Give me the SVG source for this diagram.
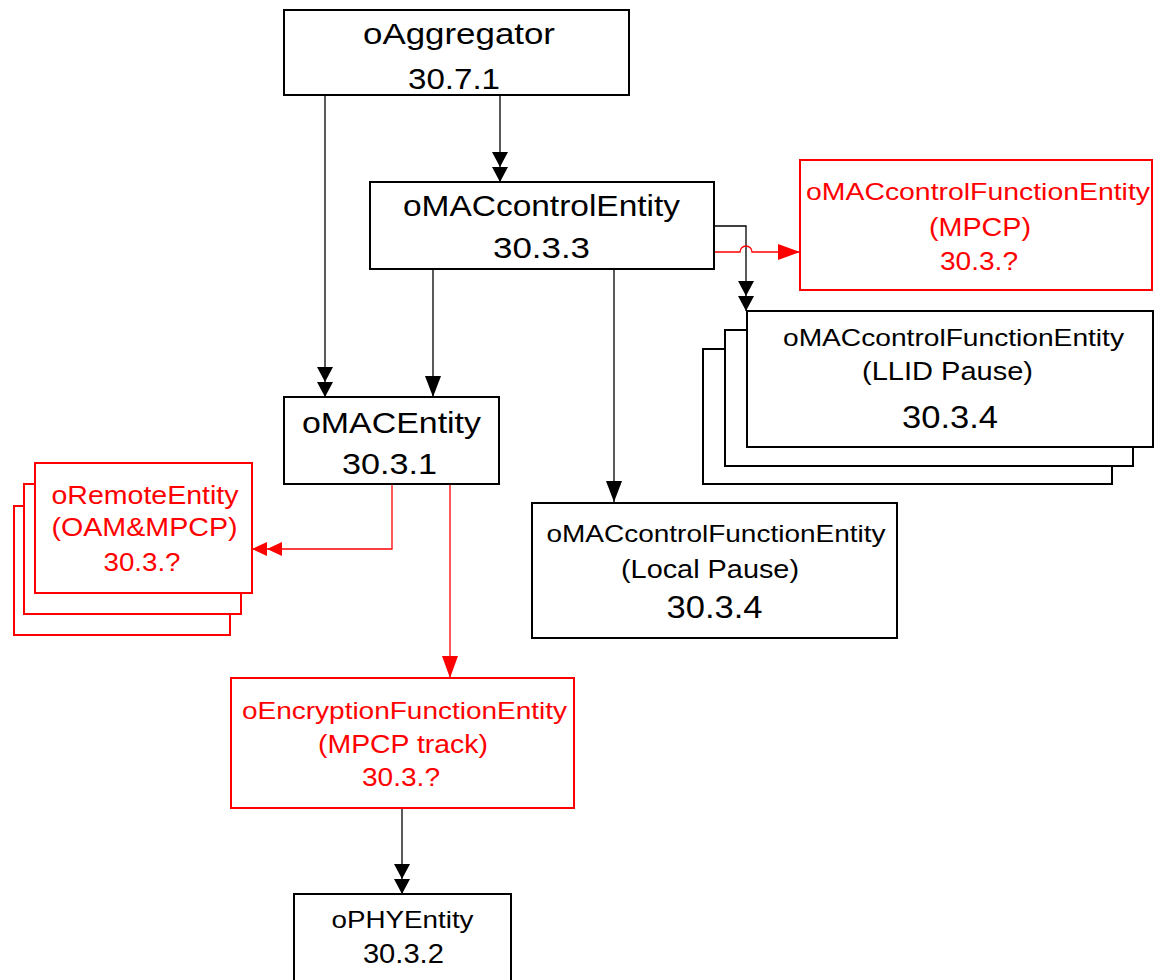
<svg xmlns="http://www.w3.org/2000/svg" width="1155" height="980" viewBox="0 0 1155 980">
<style>
text{font-family:"Liberation Sans",Arial,sans-serif;text-anchor:middle}
.b{fill:#fff;stroke:#000;stroke-width:2}
.r{fill:#fff;stroke:#f00;stroke-width:2}
.rt{fill:#f00}
.bt{fill:#000}
.cb{fill:none;stroke:#000;stroke-width:1.3}
.cr{fill:none;stroke:#f00;stroke-width:1.3}
</style>
<defs>
<marker id="dblB" markerUnits="userSpaceOnUse" viewBox="0 0 30 16" refX="30" refY="8" markerWidth="30" markerHeight="16" orient="auto"><path d="M0,0L15,8L0,16ZM15,0L30,8L15,16Z" fill="#000"/></marker>
<marker id="sglB" markerUnits="userSpaceOnUse" viewBox="0 0 21 16" refX="21" refY="8" markerWidth="21" markerHeight="16" orient="auto"><path d="M0,0L21,8L0,16Z" fill="#000"/></marker>
<marker id="sglR" markerUnits="userSpaceOnUse" viewBox="0 0 22 16" refX="22" refY="8" markerWidth="22" markerHeight="16" orient="auto"><path d="M0,0L22,8L0,16Z" fill="#f00"/></marker>
<marker id="dblR" markerUnits="userSpaceOnUse" viewBox="0 0 30 16" refX="30" refY="8" markerWidth="30" markerHeight="16" orient="auto"><path d="M0,1L15,8L0,15ZM15,1L30,8L15,15Z" fill="#f00"/></marker>
</defs>

<g id="connectors">
<path class="cb" d="M325,95V397" marker-end="url(#dblB)"/>
<path class="cb" d="M500,95V182" marker-end="url(#dblB)"/>
<path class="cb" d="M433,269V397" marker-end="url(#sglB)"/>
<path class="cb" d="M614,269V502" marker-end="url(#sglB)"/>
<path class="cb" d="M714,226H746V311" marker-end="url(#dblB)"/>
<path class="cr" d="M714,252H740A6,6 0 0 1 752,252H800" marker-end="url(#sglR)"/>
<path class="cr" d="M392,485V549H252" marker-end="url(#dblR)"/>
<path class="cr" d="M450,485V678" marker-end="url(#sglR)"/>
<path class="cb" d="M402,808V894" marker-end="url(#dblB)"/>
</g>

<g id="oAggregator">
<rect class="b" x="284" y="10" width="345" height="85"/>
<text class="bt" x="459" y="44" font-size="30" textLength="192" lengthAdjust="spacingAndGlyphs">oAggregator</text>
<text class="bt" x="454" y="89" font-size="29" textLength="92" lengthAdjust="spacingAndGlyphs">30.7.1</text>
</g>

<g id="oMACcontrolEntity">
<rect class="b" x="370" y="182" width="344" height="87"/>
<text class="bt" x="541.5" y="216" font-size="30" textLength="277" lengthAdjust="spacingAndGlyphs">oMACcontrolEntity</text>
<text class="bt" x="541.5" y="258" font-size="29" textLength="97" lengthAdjust="spacingAndGlyphs">30.3.3</text>
</g>

<g id="oMACcontrolFunctionEntityMPCP">
<rect class="r" x="800" y="160" width="352" height="130"/>
<text class="rt" x="978" y="200" font-size="24" textLength="344" lengthAdjust="spacingAndGlyphs">oMACcontrolFunctionEntity</text>
<text class="rt" x="980" y="236" font-size="25" textLength="102" lengthAdjust="spacingAndGlyphs">(MPCP)</text>
<text class="rt" x="979" y="270" font-size="25" textLength="78" lengthAdjust="spacingAndGlyphs">30.3.?</text>
</g>

<g id="oMACcontrolFunctionEntityLLID">
<rect class="b" x="703" y="349" width="409" height="135"/>
<rect class="b" x="725" y="330" width="408" height="136"/>
<rect class="b" x="747" y="311" width="406" height="136"/>
<text class="bt" x="953.5" y="346" font-size="24" textLength="341" lengthAdjust="spacingAndGlyphs">oMACcontrolFunctionEntity</text>
<text class="bt" x="947.5" y="380" font-size="25" textLength="171" lengthAdjust="spacingAndGlyphs">(LLID Pause)</text>
<text class="bt" x="950" y="428" font-size="32" textLength="96" lengthAdjust="spacingAndGlyphs">30.3.4</text>
</g>

<g id="oMACEntity">
<rect class="b" x="284" y="397" width="215" height="87"/>
<text class="bt" x="391.5" y="433" font-size="30" textLength="179" lengthAdjust="spacingAndGlyphs">oMACEntity</text>
<text class="bt" x="389.5" y="474" font-size="29" textLength="95" lengthAdjust="spacingAndGlyphs">30.3.1</text>
</g>

<g id="oRemoteEntity">
<rect class="r" x="14" y="506" width="216" height="129"/>
<rect class="r" x="24" y="484" width="217" height="130"/>
<rect class="r" x="35" y="463" width="217" height="130"/>
<text class="rt" x="145" y="504" font-size="25" textLength="187" lengthAdjust="spacingAndGlyphs">oRemoteEntity</text>
<text class="rt" x="144.5" y="536" font-size="25" textLength="186" lengthAdjust="spacingAndGlyphs">(OAM&amp;MPCP)</text>
<text class="rt" x="142" y="571" font-size="25" textLength="77" lengthAdjust="spacingAndGlyphs">30.3.?</text>
</g>

<g id="oMACcontrolFunctionEntityLocal">
<rect class="b" x="532" y="503" width="365" height="135"/>
<text class="bt" x="716" y="542" font-size="24" textLength="339" lengthAdjust="spacingAndGlyphs">oMACcontrolFunctionEntity</text>
<text class="bt" x="710" y="578" font-size="25" textLength="178" lengthAdjust="spacingAndGlyphs">(Local Pause)</text>
<text class="bt" x="714.5" y="618" font-size="32" textLength="96" lengthAdjust="spacingAndGlyphs">30.3.4</text>
</g>

<g id="oEncryptionFunctionEntity">
<rect class="r" x="231" y="678" width="343" height="130"/>
<text class="rt" x="404.5" y="719" font-size="24" textLength="325" lengthAdjust="spacingAndGlyphs">oEncryptionFunctionEntity</text>
<text class="rt" x="403" y="753" font-size="25" textLength="170" lengthAdjust="spacingAndGlyphs">(MPCP track)</text>
<text class="rt" x="401" y="786" font-size="25" textLength="78" lengthAdjust="spacingAndGlyphs">30.3.?</text>
</g>

<g id="oPHYEntity">
<rect class="b" x="294" y="894" width="217" height="95"/>
<text class="bt" x="402.5" y="928" font-size="24" textLength="142" lengthAdjust="spacingAndGlyphs">oPHYEntity</text>
<text class="bt" x="403.4" y="963" font-size="28" textLength="81" lengthAdjust="spacingAndGlyphs">30.3.2</text>
</g>
</svg>
